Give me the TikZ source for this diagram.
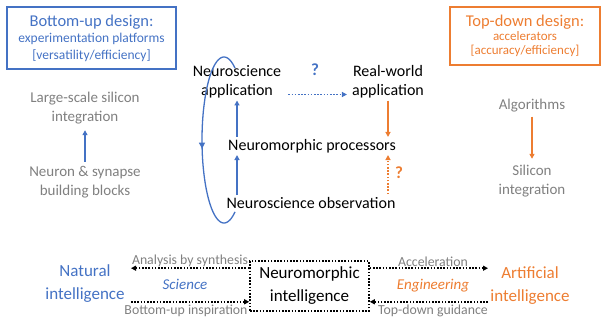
\documentclass[tikz,border=0pt]{standalone}
\usepackage{fontspec}
\setmainfont{Carlito}
\usetikzlibrary{arrows.meta}
\definecolor{myblue}{RGB}{68,114,196}
\definecolor{myorange}{RGB}{237,125,49}
\definecolor{mygray}{RGB}{128,128,128}

\begin{document}
\begin{tikzpicture}[x=1pt,y=-1pt,
  txt/.style={align=center,inner sep=1pt,font=\fontsize{16}{19}\selectfont},
  gtxt/.style={align=center,inner sep=1pt,text=mygray,font=\fontsize{15}{19}\selectfont},
  big/.style={align=center,inner sep=1pt,font=\fontsize{17}{23}\selectfont},
  lbl/.style={inner sep=0pt,text=mygray,font=\fontsize{13.8}{15}\selectfont},
  title/.style={draw,line width=1.5pt,align=center,inner sep=0pt},
  arr/.style={-{Triangle[length=5pt,width=5pt]},line width=1.3pt},
  dotarr/.style={arr,line width=1.6pt,dash pattern=on 1.6pt off 1.6pt}]
\useasboundingbox (0,0) rectangle (607,323);

% design boxes
\node[title,draw=myblue,text=myblue,minimum width=169,minimum height=62,
  font=\fontsize{13.5}{17}\selectfont] (bu) at (91.5,38)
  {{\fontsize{16.5}{18}\selectfont Bottom-up design:}\\[-1pt]
   experimentation platforms\\
   {[versatility/efficiency]}};
\node[title,draw=myorange,text=myorange,minimum width=150,minimum height=58,
  font=\fontsize{13}{14.5}\selectfont] (td) at (525,36)
  {{\fontsize{16.5}{18}\selectfont Top-down design:}\\[-1pt]
   accelerators\\
   {[accuracy/efficiency]}};

% bottom-up side
\node[gtxt] (ls) at (85,108) {Large-scale silicon\\integration};
\node[gtxt] (nb) at (85,182) {Neuron \& synapse\\building blocks};
\draw[arr,myblue,shorten <=3pt,shorten >=5pt] (nb) -- (ls);

% top-down side
\node[gtxt] (alg) at (532,106) {Algorithms};
\node[gtxt] (si) at (532,181) {Silicon\\integration};
\draw[arr,myorange,shorten <=3pt,shorten >=5pt] (alg) -- (si);

% middle
\node[txt] (na) at (237,82) {Neuroscience\\application};
\node[txt] (rw) at (388,82) {Real-world\\application};
\node[txt] (np) at (312,146) {Neuromorphic processors};
\node[txt] (no) at (311,203) {Neuroscience observation};

\draw[arr,myblue,shorten <=1pt,shorten >=1pt] (np.north -| na) -- (na);
\draw[arr,myblue,shorten <=1pt,shorten >=1pt] (no.north -| na) -- (np.south -| na);
\draw[arr,myorange,shorten <=1pt,shorten >=1pt] (rw) -- (np.north -| rw);
\draw[dotarr,myorange,shorten <=2pt,shorten >=1pt] (no.north -| rw) -- (np.south -| rw);
\node[txt,text=myorange,font=\fontsize{17}{19}\selectfont\bfseries] (q2) at (399,173) {?};
\draw[dotarr,myblue,shorten <=6pt,shorten >=4pt] ([yshift=-12.5pt]na.east) -- ([yshift=-12.5pt]rw.west);
\node[txt,text=myblue,font=\fontsize{17}{19}\selectfont\bfseries] (q1) at (315,70) {?};

% loop (part of an ellipse, arrow on its left side)
\draw[-{Triangle[length=6pt,width=6pt]},line width=1.3pt,myblue]
  plot[domain=60:186,samples=40,smooth] ({224+22*cos(\x)},{140-83*sin(\x)});
\draw[myblue,line width=1.3pt] plot[domain=184:300,samples=40,smooth] ({224+22*cos(\x)},{140-83*sin(\x)});

% bottom row
\node[big,text=myblue] (ni) at (85,284) {Natural\\intelligence};
\node[big,text=myorange] (ai) at (530,286) {Artificial\\intelligence};
\node[draw,line width=1.6pt,dash pattern=on 1.6pt off 1.6pt,align=center,inner sep=0pt,
  minimum width=119,minimum height=50,font=\fontsize{17}{23}\selectfont] (nmi) at (309.5,286)
  {Neuromorphic\\intelligence};

\coordinate (sl) at (131,0);
\coordinate (sr) at (488,0);
\draw[dotarr] ([yshift=-8pt]nmi.north west) -- ([yshift=-8pt]nmi.north west -| sl);
\draw[dotarr] ([yshift=10pt]nmi.south west -| sl) -- ([yshift=10pt]nmi.south west);
\draw[dotarr] ([yshift=-8pt]nmi.north east) -- ([yshift=-8pt]nmi.north east -| sr);
\draw[dotarr] ([yshift=10pt]nmi.south east -| sr) -- ([yshift=10pt]nmi.south east);

\node[lbl] (as) at (190,261) {Analysis by synthesis};
\node[lbl] (bi) at (186,311) {Bottom-up inspiration};
\node[lbl] (ac) at (433,262) {Acceleration};
\node[lbl] (tg) at (433,311) {Top-down guidance};
\node[txt,text=myblue,font=\fontsize{15}{18}\selectfont\itshape] (sc) at (185,284) {Science};
\node[txt,text=myorange,font=\fontsize{15}{18}\selectfont\itshape] (en) at (433,286) {Engineering};
\end{tikzpicture}
\end{document}
